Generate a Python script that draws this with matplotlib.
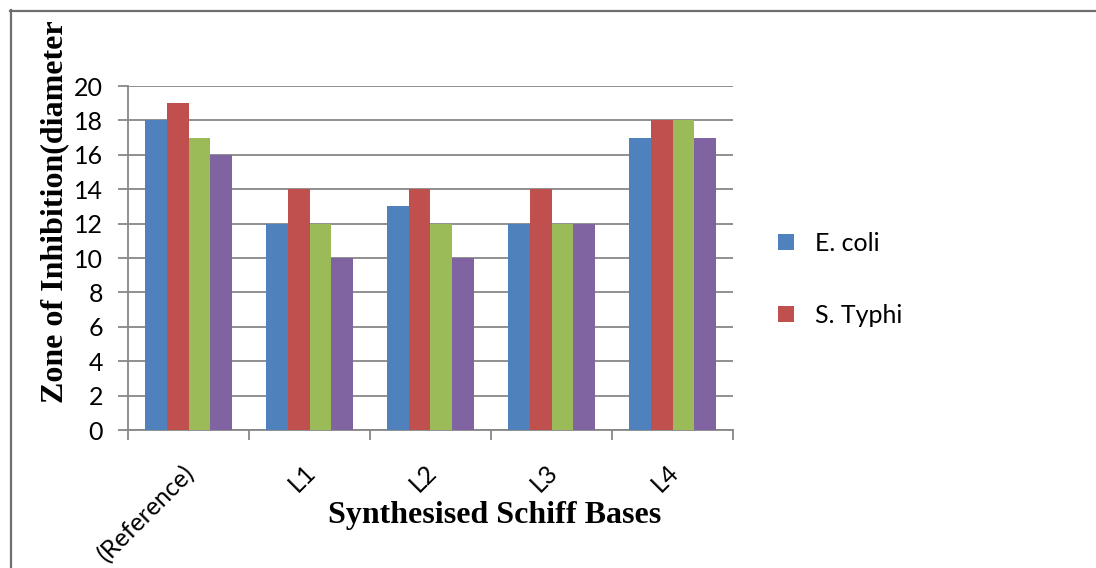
import matplotlib
matplotlib.use("Agg")
import matplotlib.pyplot as plt
import numpy as np
from matplotlib.patches import Patch
from matplotlib.lines import Line2D
from matplotlib.transforms import ScaledTranslation

categories = ["(Reference)", "L1", "L2", "L3", "L4"]
series_names = ["E. coli", "S. Typhi", "Series 3", "Series 4"]
e_coli = [18, 12, 13, 12, 17]
s_typhi = [19, 14, 14, 14, 18]
series3 = [17, 12, 12, 12, 18]
series4 = [16, 10, 10, 12, 17]
values = [e_coli, s_typhi, series3, series4]
colors = ["#4F81BD", "#C0504D", "#9BBB59", "#8064A2"]
yticks = list(range(0, 21, 2))

W, H = 1096, 568
fig = plt.figure(figsize=(W / 100, H / 100), dpi=100)
ax = fig.add_axes([128 / W, 1 - 430 / H, (733 - 128) / W, (430 - 86) / H])

tick_font = "Lato"
x = np.arange(len(categories))
bw = 0.18
for i, (vals, c) in enumerate(zip(values, colors)):
    ax.bar(x + (i - 1.5) * bw, vals, bw, color=c, zorder=3, linewidth=0)

ax.set_xlim(-0.5, len(categories) - 0.5)
ax.set_ylim(0, 20)
ax.set_yticks(yticks)
ax.set_yticklabels([str(t) for t in yticks], fontsize=18, family=tick_font)
ax.yaxis.grid(True, color="#878787", linewidth=1.3, zorder=0)
ax.set_axisbelow(True)

ax.set_xticks(x)
ax.set_xticklabels(categories, rotation=45, ha="right", rotation_mode="anchor",
                   fontsize=18, family=tick_font)
ax.set_xticks(np.arange(-0.5, len(categories)), minor=True)
ax.tick_params(axis="x", which="major", length=0, pad=22)
ax.tick_params(axis="x", which="minor", length=7, width=1.3, color="#878787", direction="out")
ax.tick_params(axis="y", length=7, width=1.3, color="#878787", direction="out", pad=11)
shift = ScaledTranslation(-6 / 100, 0, fig.dpi_scale_trans)
for lab in ax.get_xticklabels():
    lab.set_transform(lab.get_transform() + shift)

for s in ["top", "right"]:
    ax.spines[s].set_visible(False)
for s in ["left", "bottom"]:
    ax.spines[s].set_color("#878787")
    ax.spines[s].set_linewidth(1.3)

# legend (only first two series visible in the original)
handles = [Patch(facecolor=colors[0], label=series_names[0]),
           Patch(facecolor=colors[1], label=series_names[1])]
leg = fig.legend(handles=handles, loc="upper left", bbox_to_anchor=(768 / W, 1 - 222 / H),
                 frameon=False, prop={"family": tick_font, "size": 18},
                 handlelength=0.62, handleheight=0.62, labelspacing=1.95, handletextpad=0.85,
                 borderaxespad=0)

fig.text(495 / W, 1 - 516 / H, "Synthesised Schiff Bases", ha="center", va="center",
         family="Liberation Serif", weight="bold", fontsize=23)

fig.text(55 / W, 1 - 403 / H, "Zone of Inhibition(diameter", rotation=90,
         ha="center", va="bottom", family="Liberation Serif", weight="bold", fontsize=23)

# outer border (top and left visible)
fig.add_artist(Line2D([10 / W, 1], [1 - 10.5 / H, 1 - 10.5 / H], transform=fig.transFigure,
                      color="#6e6e6e", linewidth=1.6))
fig.add_artist(Line2D([10.5 / W, 10.5 / W], [0, 1 - 10 / H], transform=fig.transFigure,
                      color="#6e6e6e", linewidth=1.6))

fig.savefig("out.png", dpi=100)
